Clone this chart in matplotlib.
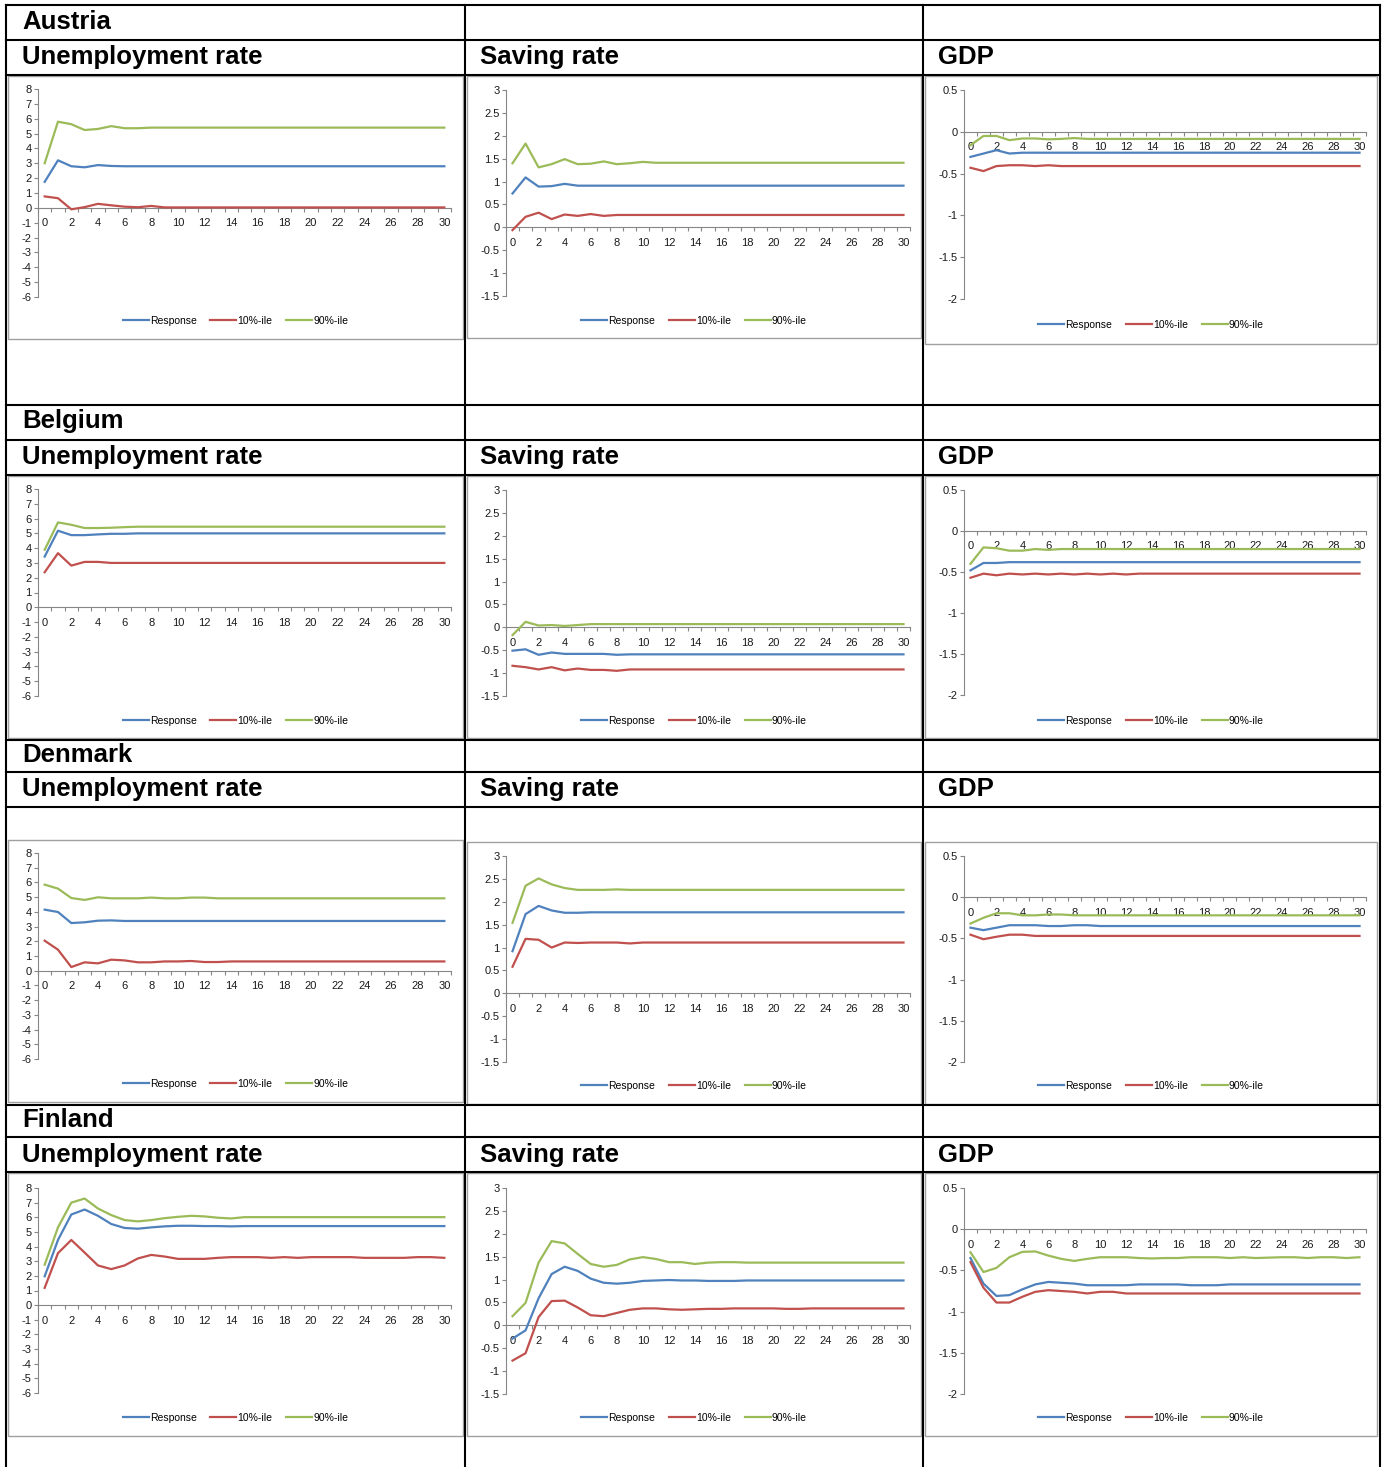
import numpy as np
import matplotlib.pyplot as plt
from matplotlib.lines import Line2D
from matplotlib.patches import Rectangle

plt.rcParams['font.family'] = ['Liberation Sans', 'DejaVu Sans']
plt.rcParams['axes.unicode_minus'] = False

W, H = 1383, 1467

horizon = list(range(31))
countries = ['Austria', 'Belgium', 'Denmark', 'Finland']
variables = ['Unemployment rate', 'Saving rate', 'GDP']
series_names = ['Response', '10%-ile', '90%-ile']

# ---------------- Austria ----------------
aut_unemp_resp = [1.75, 3.20, 2.80, 2.73, 2.88, 2.82, 2.80, 2.80, 2.80, 2.80,
                  2.80, 2.80, 2.80, 2.80, 2.80, 2.80, 2.80, 2.80, 2.80, 2.80,
                  2.80, 2.80, 2.80, 2.80, 2.80, 2.80, 2.80, 2.80, 2.80, 2.80,
                  2.80]
aut_unemp_lo = [0.77, 0.65, -0.10, 0.05, 0.27, 0.17, 0.08, 0.04, 0.13, 0.03,
                0.03, 0.03, 0.03, 0.03, 0.03, 0.03, 0.03, 0.03, 0.03, 0.03,
                0.03, 0.03, 0.03, 0.03, 0.03, 0.03, 0.03, 0.03, 0.03, 0.03,
                0.03]
aut_unemp_hi = [3.00, 5.80, 5.63, 5.24, 5.31, 5.50, 5.36, 5.36, 5.40, 5.40,
                5.40, 5.40, 5.40, 5.40, 5.40, 5.40, 5.40, 5.40, 5.40, 5.40,
                5.40, 5.40, 5.40, 5.40, 5.40, 5.40, 5.40, 5.40, 5.40, 5.40,
                5.40]

aut_sav_resp = [0.74, 1.09, 0.89, 0.90, 0.95, 0.91, 0.91, 0.91, 0.91, 0.91,
                0.91, 0.91, 0.91, 0.91, 0.91, 0.91, 0.91, 0.91, 0.91, 0.91,
                0.91, 0.91, 0.91, 0.91, 0.91, 0.91, 0.91, 0.91, 0.91, 0.91,
                0.91]
aut_sav_lo = [-0.06, 0.23, 0.32, 0.18, 0.28, 0.25, 0.29, 0.25, 0.27, 0.27,
              0.27, 0.27, 0.27, 0.27, 0.27, 0.27, 0.27, 0.27, 0.27, 0.27,
              0.27, 0.27, 0.27, 0.27, 0.27, 0.27, 0.27, 0.27, 0.27, 0.27,
              0.27]
aut_sav_hi = [1.40, 1.83, 1.31, 1.38, 1.49, 1.38, 1.39, 1.44, 1.38, 1.40,
              1.43, 1.41, 1.41, 1.41, 1.41, 1.41, 1.41, 1.41, 1.41, 1.41,
              1.41, 1.41, 1.41, 1.41, 1.41, 1.41, 1.41, 1.41, 1.41, 1.41,
              1.41]

aut_gdp_resp = [-0.30, -0.26, -0.22, -0.26, -0.25, -0.25, -0.25, -0.25, -0.25, -0.25,
                -0.25, -0.25, -0.25, -0.25, -0.25, -0.25, -0.25, -0.25, -0.25, -0.25,
                -0.25, -0.25, -0.25, -0.25, -0.25, -0.25, -0.25, -0.25, -0.25, -0.25,
                -0.25]
aut_gdp_lo = [-0.43, -0.47, -0.41, -0.40, -0.40, -0.41, -0.40, -0.41, -0.41, -0.41,
              -0.41, -0.41, -0.41, -0.41, -0.41, -0.41, -0.41, -0.41, -0.41, -0.41,
              -0.41, -0.41, -0.41, -0.41, -0.41, -0.41, -0.41, -0.41, -0.41, -0.41,
              -0.41]
aut_gdp_hi = [-0.16, -0.05, -0.05, -0.10, -0.08, -0.08, -0.09, -0.085, -0.075, -0.085,
              -0.085, -0.085, -0.085, -0.085, -0.085, -0.085, -0.085, -0.085, -0.085, -0.085,
              -0.085, -0.085, -0.085, -0.085, -0.085, -0.085, -0.085, -0.085, -0.085, -0.085,
              -0.085]

# ---------------- Belgium ----------------
bel_unemp_resp = [3.43, 5.18, 4.88, 4.88, 4.93, 4.97, 4.97, 5.00, 5.00, 5.00,
                  5.00, 5.00, 5.00, 5.00, 5.00, 5.00, 5.00, 5.00, 5.00, 5.00,
                  5.00, 5.00, 5.00, 5.00, 5.00, 5.00, 5.00, 5.00, 5.00, 5.00,
                  5.00]
bel_unemp_lo = [2.37, 3.66, 2.82, 3.07, 3.07, 3.00, 3.00, 3.00, 3.00, 3.00,
                3.00, 3.00, 3.00, 3.00, 3.00, 3.00, 3.00, 3.00, 3.00, 3.00,
                3.00, 3.00, 3.00, 3.00, 3.00, 3.00, 3.00, 3.00, 3.00, 3.00,
                3.00]
bel_unemp_hi = [3.89, 5.74, 5.58, 5.36, 5.36, 5.38, 5.42, 5.45, 5.45, 5.45,
                5.45, 5.45, 5.45, 5.45, 5.45, 5.45, 5.45, 5.45, 5.45, 5.45,
                5.45, 5.45, 5.45, 5.45, 5.45, 5.45, 5.45, 5.45, 5.45, 5.45,
                5.45]

bel_sav_resp = [-0.51, -0.48, -0.60, -0.55, -0.58, -0.58, -0.58, -0.58, -0.60, -0.59,
                -0.59, -0.59, -0.59, -0.59, -0.59, -0.59, -0.59, -0.59, -0.59, -0.59,
                -0.59, -0.59, -0.59, -0.59, -0.59, -0.59, -0.59, -0.59, -0.59, -0.59,
                -0.59]
bel_sav_lo = [-0.84, -0.87, -0.92, -0.87, -0.94, -0.90, -0.93, -0.93, -0.95, -0.92,
              -0.92, -0.92, -0.92, -0.92, -0.92, -0.92, -0.92, -0.92, -0.92, -0.92,
              -0.92, -0.92, -0.92, -0.92, -0.92, -0.92, -0.92, -0.92, -0.92, -0.92,
              -0.92]
bel_sav_hi = [-0.17, 0.12, 0.04, 0.05, 0.03, 0.05, 0.07, 0.07, 0.07, 0.07,
              0.07, 0.07, 0.07, 0.07, 0.07, 0.07, 0.07, 0.07, 0.07, 0.07,
              0.07, 0.07, 0.07, 0.07, 0.07, 0.07, 0.07, 0.07, 0.07, 0.07,
              0.07]

bel_gdp_resp = [-0.48, -0.39, -0.39, -0.38, -0.38, -0.38, -0.38, -0.38, -0.38, -0.38,
                -0.38, -0.38, -0.38, -0.38, -0.38, -0.38, -0.38, -0.38, -0.38, -0.38,
                -0.38, -0.38, -0.38, -0.38, -0.38, -0.38, -0.38, -0.38, -0.38, -0.38,
                -0.38]
bel_gdp_lo = [-0.57, -0.52, -0.54, -0.52, -0.53, -0.52, -0.53, -0.52, -0.53, -0.52,
              -0.53, -0.52, -0.53, -0.52, -0.52, -0.52, -0.52, -0.52, -0.52, -0.52,
              -0.52, -0.52, -0.52, -0.52, -0.52, -0.52, -0.52, -0.52, -0.52, -0.52,
              -0.52]
bel_gdp_hi = [-0.40, -0.20, -0.21, -0.24, -0.24, -0.22, -0.23, -0.22, -0.22, -0.22,
              -0.22, -0.22, -0.22, -0.22, -0.22, -0.22, -0.22, -0.22, -0.22, -0.22,
              -0.22, -0.22, -0.22, -0.22, -0.22, -0.22, -0.22, -0.22, -0.22, -0.22,
              -0.22]

# ---------------- Denmark ----------------
dnk_unemp_resp = [4.15, 3.99, 3.24, 3.29, 3.40, 3.42, 3.38, 3.38, 3.38, 3.38,
                  3.38, 3.38, 3.38, 3.38, 3.38, 3.38, 3.38, 3.38, 3.38, 3.38,
                  3.38, 3.38, 3.38, 3.38, 3.38, 3.38, 3.38, 3.38, 3.38, 3.38,
                  3.38]
dnk_unemp_lo = [2.04, 1.43, 0.25, 0.57, 0.50, 0.75, 0.70, 0.57, 0.57, 0.63,
                0.63, 0.66, 0.59, 0.59, 0.63, 0.63, 0.63, 0.63, 0.63, 0.63,
                0.63, 0.63, 0.63, 0.63, 0.63, 0.63, 0.63, 0.63, 0.63, 0.63,
                0.63]
dnk_unemp_hi = [5.85, 5.58, 4.94, 4.81, 4.99, 4.92, 4.92, 4.92, 4.97, 4.92,
                4.92, 4.97, 4.97, 4.92, 4.92, 4.92, 4.92, 4.92, 4.92, 4.92,
                4.92, 4.92, 4.92, 4.92, 4.92, 4.92, 4.92, 4.92, 4.92, 4.92,
                4.92]

dnk_sav_resp = [0.92, 1.73, 1.91, 1.81, 1.76, 1.76, 1.77, 1.77, 1.77, 1.77,
                1.77, 1.77, 1.77, 1.77, 1.77, 1.77, 1.77, 1.77, 1.77, 1.77,
                1.77, 1.77, 1.77, 1.77, 1.77, 1.77, 1.77, 1.77, 1.77, 1.77,
                1.77]
dnk_sav_lo = [0.58, 1.19, 1.17, 1.00, 1.11, 1.10, 1.11, 1.11, 1.11, 1.09,
              1.11, 1.11, 1.11, 1.11, 1.11, 1.11, 1.11, 1.11, 1.11, 1.11,
              1.11, 1.11, 1.11, 1.11, 1.11, 1.11, 1.11, 1.11, 1.11, 1.11,
              1.11]
dnk_sav_hi = [1.54, 2.35, 2.51, 2.38, 2.30, 2.26, 2.26, 2.26, 2.27, 2.26,
              2.26, 2.26, 2.26, 2.26, 2.26, 2.26, 2.26, 2.26, 2.26, 2.26,
              2.26, 2.26, 2.26, 2.26, 2.26, 2.26, 2.26, 2.26, 2.26, 2.26,
              2.26]

dnk_gdp_resp = [-0.37, -0.40, -0.37, -0.34, -0.34, -0.34, -0.35, -0.35, -0.34, -0.34,
                -0.35, -0.35, -0.35, -0.35, -0.35, -0.35, -0.35, -0.35, -0.35, -0.35,
                -0.35, -0.35, -0.35, -0.35, -0.35, -0.35, -0.35, -0.35, -0.35, -0.35,
                -0.35]
dnk_gdp_lo = [-0.455, -0.51, -0.48, -0.455, -0.455, -0.47, -0.47, -0.47, -0.47, -0.47,
              -0.47, -0.47, -0.47, -0.47, -0.47, -0.47, -0.47, -0.47, -0.47, -0.47,
              -0.47, -0.47, -0.47, -0.47, -0.47, -0.47, -0.47, -0.47, -0.47, -0.47,
              -0.47]
dnk_gdp_hi = [-0.32, -0.25, -0.195, -0.195, -0.22, -0.22, -0.21, -0.21, -0.22, -0.22,
              -0.22, -0.22, -0.22, -0.22, -0.22, -0.22, -0.22, -0.22, -0.22, -0.22,
              -0.22, -0.22, -0.22, -0.22, -0.22, -0.22, -0.22, -0.22, -0.22, -0.22,
              -0.22]

# ---------------- Finland ----------------
fin_unemp_resp = [1.97, 4.45, 6.19, 6.53, 6.10, 5.54, 5.27, 5.22, 5.31, 5.38,
                  5.42, 5.42, 5.40, 5.40, 5.38, 5.40, 5.40, 5.40, 5.40, 5.40,
                  5.40, 5.40, 5.40, 5.40, 5.40, 5.40, 5.40, 5.40, 5.40, 5.40,
                  5.40]
fin_unemp_lo = [1.18, 3.55, 4.45, 3.59, 2.71, 2.46, 2.71, 3.19, 3.43, 3.32,
                3.16, 3.16, 3.16, 3.23, 3.28, 3.28, 3.28, 3.23, 3.28, 3.23,
                3.28, 3.28, 3.28, 3.28, 3.23, 3.23, 3.23, 3.23, 3.28, 3.28,
                3.23]
fin_unemp_hi = [2.76, 5.31, 7.00, 7.28, 6.60, 6.15, 5.81, 5.72, 5.81, 5.94,
                6.03, 6.10, 6.06, 5.97, 5.92, 6.01, 6.01, 6.01, 6.01, 6.01,
                6.01, 6.01, 6.01, 6.01, 6.01, 6.01, 6.01, 6.01, 6.01, 6.01,
                6.01]

fin_sav_resp = [-0.29, -0.11, 0.59, 1.12, 1.28, 1.19, 1.02, 0.93, 0.91, 0.93,
                0.97, 0.98, 0.99, 0.98, 0.98, 0.97, 0.97, 0.97, 0.98, 0.98,
                0.98, 0.98, 0.98, 0.98, 0.98, 0.98, 0.98, 0.98, 0.98, 0.98,
                0.98]
fin_sav_lo = [-0.77, -0.61, 0.18, 0.53, 0.54, 0.39, 0.22, 0.20, 0.27, 0.34,
              0.37, 0.37, 0.35, 0.34, 0.35, 0.36, 0.36, 0.37, 0.37, 0.37,
              0.37, 0.36, 0.36, 0.37, 0.37, 0.37, 0.37, 0.37, 0.37, 0.37,
              0.37]
fin_sav_hi = [0.20, 0.49, 1.37, 1.84, 1.79, 1.56, 1.34, 1.28, 1.32, 1.44,
              1.49, 1.45, 1.38, 1.38, 1.34, 1.37, 1.38, 1.38, 1.37, 1.37,
              1.37, 1.37, 1.37, 1.37, 1.37, 1.37, 1.37, 1.37, 1.37, 1.37,
              1.37]

fin_gdp_resp = [-0.35, -0.66, -0.81, -0.80, -0.73, -0.67, -0.64, -0.65, -0.66, -0.68,
                -0.68, -0.68, -0.68, -0.67, -0.67, -0.67, -0.67, -0.68, -0.68, -0.68,
                -0.67, -0.67, -0.67, -0.67, -0.67, -0.67, -0.67, -0.67, -0.67, -0.67,
                -0.67]
fin_gdp_lo = [-0.40, -0.71, -0.89, -0.89, -0.82, -0.76, -0.74, -0.75, -0.76, -0.78,
              -0.76, -0.76, -0.78, -0.78, -0.78, -0.78, -0.78, -0.78, -0.78, -0.78,
              -0.78, -0.78, -0.78, -0.78, -0.78, -0.78, -0.78, -0.78, -0.78, -0.78,
              -0.78]
fin_gdp_hi = [-0.28, -0.52, -0.47, -0.34, -0.275, -0.27, -0.32, -0.36, -0.385, -0.36,
              -0.34, -0.34, -0.34, -0.35, -0.355, -0.35, -0.35, -0.34, -0.34, -0.34,
              -0.35, -0.34, -0.35, -0.345, -0.34, -0.34, -0.35, -0.34, -0.34, -0.35,
              -0.34]

data = {
    ('Austria', 0): (aut_unemp_resp, aut_unemp_lo, aut_unemp_hi),
    ('Austria', 1): (aut_sav_resp, aut_sav_lo, aut_sav_hi),
    ('Austria', 2): (aut_gdp_resp, aut_gdp_lo, aut_gdp_hi),
    ('Belgium', 0): (bel_unemp_resp, bel_unemp_lo, bel_unemp_hi),
    ('Belgium', 1): (bel_sav_resp, bel_sav_lo, bel_sav_hi),
    ('Belgium', 2): (bel_gdp_resp, bel_gdp_lo, bel_gdp_hi),
    ('Denmark', 0): (dnk_unemp_resp, dnk_unemp_lo, dnk_unemp_hi),
    ('Denmark', 1): (dnk_sav_resp, dnk_sav_lo, dnk_sav_hi),
    ('Denmark', 2): (dnk_gdp_resp, dnk_gdp_lo, dnk_gdp_hi),
    ('Finland', 0): (fin_unemp_resp, fin_unemp_lo, fin_unemp_hi),
    ('Finland', 1): (fin_sav_resp, fin_sav_lo, fin_sav_hi),
    ('Finland', 2): (fin_gdp_resp, fin_gdp_lo, fin_gdp_hi),
}

# y axis settings per variable
ylims = [(-6, 8), (-1.5, 3), (-2, 0.5)]
ysteps = [1, 0.5, 0.5]

colors = ['#4F81BD', '#C0504D', '#9BBB59']
axis_gray = '#868686'

# ---------------- layout (pixels) ----------------
# per column: frame x0, x1, axis left, axis right
col_geom = [(8, 463, 38, 451), (467, 921, 506, 910), (925, 1377, 964, 1366)]
# per row and column: frame top, frame bottom, plot top, plot bottom, legend y
row_geom = {
    'Austria': [(76, 339, 89, 297, 321), (76, 338, 90, 296, 321), (76, 344, 90, 299, 325)],
    'Belgium': [(476, 738, 489, 696, 721), (476, 738, 490, 696, 721), (476, 738, 490, 695, 721)],
    'Denmark': [(840, 1102, 853, 1059, 1084), (842, 1104, 856, 1062, 1086), (842, 1104, 856, 1062, 1086)],
    'Finland': [(1173, 1436, 1188, 1393, 1418), (1173, 1436, 1188, 1394, 1418), (1173, 1436, 1188, 1394, 1418)],
}
# header rows: country row centre, title row centre
header_y = {'Austria': (22, 57), 'Belgium': (421, 457), 'Denmark': (755, 789), 'Finland': (1120, 1155)}
title_x = [22, 480, 938]

h_lines = [5, 40, 75, 405, 440, 475, 740, 772, 807, 1105, 1137, 1172]
v_lines = [6, 465, 923, 1380]


def fx(x):
    return x / W


def fy(y):
    return 1 - y / H


fig = plt.figure(figsize=(W / 100, H / 100), dpi=100)
fig.patch.set_facecolor('white')

for country in countries:
    for j in range(3):
        fx0, fx1, axl, axr = col_geom[j]
        ft, fb, pt, pb, ly = row_geom[country][j]

        fig.add_artist(Rectangle((fx(fx0), fy(fb)), (fx1 - fx0) / W, (fb - ft) / H,
                                 transform=fig.transFigure, fill=False,
                                 edgecolor='#a0a0a0', lw=1.0))

        ax = fig.add_axes([fx(axl), fy(pb), (axr - axl) / W, (pb - pt) / H])
        ax.patch.set_alpha(0)
        resp, lo, hi = data[(country, j)]
        handles = []
        for vals, c, name in zip([resp, lo, hi], colors, series_names):
            ln, = ax.plot(horizon, vals, color=c, lw=1.6, label=name,
                          solid_joinstyle='round', zorder=3)
            handles.append(ln)

        ymin, ymax = ylims[j]
        ax.set_xlim(-0.5, 30.5)
        ax.set_ylim(ymin, ymax)
        for s in ['top', 'right']:
            ax.spines[s].set_visible(False)
        ax.spines['bottom'].set_position(('data', 0))
        for s in ['bottom', 'left']:
            ax.spines[s].set_color(axis_gray)
            ax.spines[s].set_linewidth(0.8)
            ax.spines[s].set_zorder(2)

        ax.set_xticks(range(0, 31, 2))
        ax.set_xticklabels([str(v) for v in range(0, 31, 2)])
        ax.set_xticks(np.arange(-0.5, 31, 1), minor=True)
        ax.tick_params(axis='x', which='major', length=0, pad=7.5,
                       labelsize=8, labelcolor='#1a1a1a')
        ax.tick_params(axis='x', which='minor', length=3, width=0.8,
                       direction='out', color=axis_gray)

        yt = np.arange(ymin, ymax + ysteps[j] / 2, ysteps[j])
        ax.set_yticks(yt)
        ax.set_yticklabels(['%g' % v for v in yt])
        ax.tick_params(axis='y', length=3, width=0.8, color=axis_gray, pad=1.5,
                       labelsize=8, labelcolor='#1a1a1a')

        cx = (fx0 + fx1) / 2
        ax.legend(handles=handles, loc='center', bbox_to_anchor=(fx(cx), fy(ly)),
                  bbox_transform=fig.transFigure, ncol=3, frameon=False,
                  fontsize=7.5, handlelength=2.5, handletextpad=0.1,
                  columnspacing=1.3, borderpad=0)

    cy, ty = header_y[country]
    fig.text(fx(22), fy(cy), country, fontsize=18.5, fontweight='bold',
             ha='left', va='center')
    for j, var in enumerate(variables):
        fig.text(fx(title_x[j]), fy(ty), var, fontsize=18.5, fontweight='bold',
                 ha='left', va='center')

# table grid
for y in h_lines:
    fig.add_artist(Line2D([fx(v_lines[0]), fx(v_lines[-1])], [fy(y), fy(y)],
                          transform=fig.transFigure, color='black', lw=1.5, zorder=10))
for x in v_lines:
    fig.add_artist(Line2D([fx(x), fx(x)], [fy(5), fy(H)],
                          transform=fig.transFigure, color='black', lw=1.5, zorder=10))

fig.savefig('out.png', dpi=100, facecolor='white')
